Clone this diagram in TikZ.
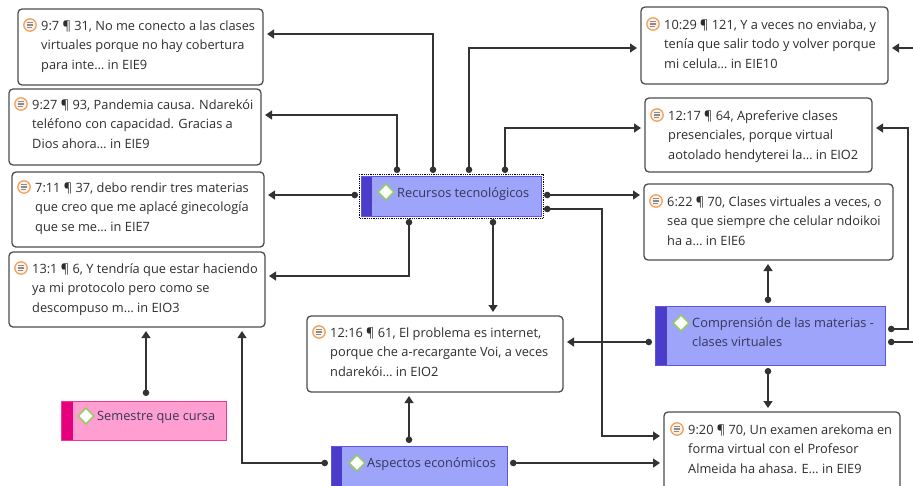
\documentclass[tikz,border=0pt]{standalone}
\usepackage{fontspec}
\setmainfont{Open Sans}
\usetikzlibrary{arrows.meta,calc}
\definecolor{qborder}{HTML}{4D4D4D}
\definecolor{qtxt}{HTML}{2E2E2E}
\definecolor{ctxt}{HTML}{36365A}
\definecolor{lnk}{HTML}{333333}
\definecolor{blfill}{HTML}{9DA4FA}
\definecolor{blbar}{HTML}{4B3DC9}
\definecolor{blborder}{HTML}{5B55E0}
\definecolor{pkfill}{HTML}{FF9ED0}
\definecolor{pkbar}{HTML}{E6007E}
\definecolor{pkborder}{HTML}{EC3A92}
\definecolor{dgreen}{HTML}{93CE5C}
\definecolor{iorange}{HTML}{F0A35E}
\definecolor{ifill}{HTML}{FDF3EA}
\definecolor{igray}{HTML}{8A8A8A}
\newcommand\qfont{\fontsize{12.8}{19.5}\selectfont}
\tikzset{
  quote/.style={draw=qborder, line width=1.3pt, rounded corners=4pt, fill=white,
    rectangle, inner sep=0pt, outer sep=4pt, anchor=north west},
  qtext/.style={anchor=base west, align=left, inner sep=0pt, font=\qfont, text=qtxt},
  ctext/.style={anchor=base west, align=left, inner sep=0pt, font=\qfont, text=ctxt},
  bluecode/.style={draw=blborder, line width=1pt, fill=blfill, rectangle,
    inner sep=0pt, outer sep=0pt, anchor=north west},
  pinkcode/.style={draw=pkborder, line width=1pt, fill=pkfill, rectangle,
    inner sep=0pt, outer sep=0pt, anchor=north west},
  link/.style={draw=lnk, line width=1.3pt, shorten <=3pt,
    {Circle[length=6.5pt,width=6.5pt]}-{Triangle[length=7pt,width=9pt]}},
}
% document icon at (x,y)
\newcommand\docicon[2]{%
  \filldraw[draw=iorange, fill=ifill, line width=1.3pt] (#1,#2) circle (6.2pt);
  \foreach \dy/\w in {-2.7/3.4,-0.9/3.4,0.9/3.4,2.7/2.3}
    \draw[igray, line width=1pt] (#1-3.4,#2+\dy) -- (#1+\w,#2+\dy);
}
% diamond icon at (x,y)
\newcommand\diamicon[2]{%
  \filldraw[draw=dgreen, fill=white, line width=1.4pt]
    (#1-7.8,#2) -- (#1,#2-7.8) -- (#1+7.8,#2) -- (#1,#2+7.8) -- cycle;
}
\begin{document}
\begin{tikzpicture}[x=1pt,y=-1pt]
\useasboundingbox (0,0) rectangle (913,485);
\fill[white] (0,0) rectangle (913,485);

% ---------- quotation boxes (anchor = outer corner, 4pt outside the border) ----------
\node[quote, minimum width=245pt, minimum height=76pt] (q1) at (14,5) {};
\node[quote, minimum width=252pt, minimum height=76pt] (q2) at (5,85) {};
\node[quote, minimum width=252pt, minimum height=75pt] (q3) at (8,168) {};
\node[quote, minimum width=256pt, minimum height=75pt] (q4) at (5,248) {};
\node[quote, minimum width=247pt, minimum height=77pt] (q5) at (637,3) {};
\node[quote, minimum width=227pt, minimum height=74pt] (q6) at (641,94) {};
\node[quote, minimum width=249pt, minimum height=76pt] (q7) at (640,180) {};
\node[quote, minimum width=256pt, minimum height=76pt] (q8) at (303,312) {};
\node[quote, minimum width=236pt, minimum height=80pt] (q9) at (660,408) {};

\docicon{30}{25} \docicon{21}{104} \docicon{24}{187} \docicon{21}{268}
\docicon{653}{24} \docicon{657}{115} \docicon{656}{201} \docicon{319}{332}
\docicon{677}{429}

\node[qtext] (t1) at (41,69) {9:7 ¶ 31, No me conecto a las clases\\virtuales porque no hay cobertura\\para inte… in EIE9};
\node[qtext] (t2) at (32,148) {9:27 ¶ 93, Pandemia causa. Ndarekói\\teléfono con capacidad. Gracias a\\Dios ahora… in EIE9};
\node[qtext] (t3) at (35,231) {7:11 ¶ 37, debo rendir tres materias\\que creo que me aplacé ginecología\\que se me… in EIE7};
\node[qtext] (t4) at (32,312) {13:1 ¶ 6, Y tendría que estar haciendo\\ya mi protocolo pero como se\\descompuso m… in EIO3};
\node[qtext] (t5) at (664,68) {10:29 ¶ 121, Y a veces no enviaba, y\\tenía que salir todo y volver porque\\mi celula… in EIE10};
\node[qtext] (t6) at (668,159) {12:17 ¶ 64, Apreferive clases\\presenciales, porque virtual\\aotolado hendyterei la… in EIO2};
\node[qtext] (t7) at (667,245) {6:22 ¶ 70, Clases virtuales a veces, o\\sea que siempre che celular ndoikoi\\ha a… in EIE6};
\node[qtext] (t8) at (330,376) {12:16 ¶ 61, El problema es internet,\\porque che a-recargante Voi, a veces\\ndarekói… in EIO2};
\node[qtext] (t9) at (688,473) {9:20 ¶ 70, Un examen arekoma en\\forma virtual con el Profesor\\Almeida ha ahasa. E… in EIE9};

% ---------- code boxes ----------
\node[bluecode, minimum width=180pt, minimum height=40pt] (rt) at (361,176) {};
\fill[blbar] (361.5,176.5) rectangle (372,215.5);
\draw[black, line width=0.8pt, densely dotted] (359,174) rectangle (543,218);
\diamicon{386}{192}
\node[ctext] (rtt) at (397,197) {Recursos tecnológicos};

\node[bluecode, minimum width=230pt, minimum height=59pt] (cm) at (655,306) {};
\fill[blbar] (655.5,306.5) rectangle (667,364.5);
\diamicon{681}{323}
\node[ctext] (cmt) at (692,346.5) {Comprensión de las materias -\\clases virtuales};

\node[bluecode, minimum width=176pt, minimum height=42pt] (ae) at (331,446) {};
\fill[blbar] (331.5,446.5) rectangle (342,487.5);
\diamicon{357}{463}
\node[ctext] (aet) at (367,467) {Aspectos económicos};

\node[pinkcode, minimum width=165pt, minimum height=39pt] (sq) at (61,401) {};
\fill[pkbar] (61.5,401.5) rectangle (73,439.5);
\diamicon{86}{416}
\node[ctext] (sqt) at (97,420) {Semestre que cursa};

% ---------- connectors ----------
\draw[link] (rt.north -| 433,0) |- (q1.east |- 0,34);
\draw[link] (rt.north -| 397,0) |- (q2.east |- 0,115);
\draw[link] (rt.north -| 469,0) |- (q5.west |- 0,48);
\draw[link] (rt.north -| 505,0) |- (q6.west |- 0,128);
\draw[link] (rt.west |- 0,195) -- (q3.east |- 0,195);
\draw[link] (rt.east |- 0,195) -- (q7.west |- 0,195);
\draw[link] (rt.east |- 0,209) -| (602,436) -- (q9.west |- 0,436);
\draw[link] (rt.south -| 409,0) |- (q4.east |- 0,276);
\draw[link] (rt.south -| 493,0) -- (q8.north -| 493,0);
\draw[link, shorten <=5pt] (sq.north -| 146,0) -- (q4.south -| 146,0);
\draw[link] (ae.west |- 0,463) -| (q4.south -| 242,0);
\draw[link] (ae.north -| 409,0) -- (q8.south -| 409,0);
\draw[link] (ae.east |- 0,463) -- (q9.west |- 0,463);
\draw[link] (cm.north -| 768,0) -- (q7.south -| 768,0);
\draw[link] (cm.south -| 768,0) -- (q9.north -| 768,0);
\draw[link] (cm.west |- 0,342) -- (q8.east |- 0,342);
\draw[link] (cm.east |- 0,329) -| (908,128) -- (q6.east |- 0,128);
\draw[link] (cm.east |- 0,342) -| (930,48) -- (q5.east |- 0,48);
\end{tikzpicture}
\end{document}
